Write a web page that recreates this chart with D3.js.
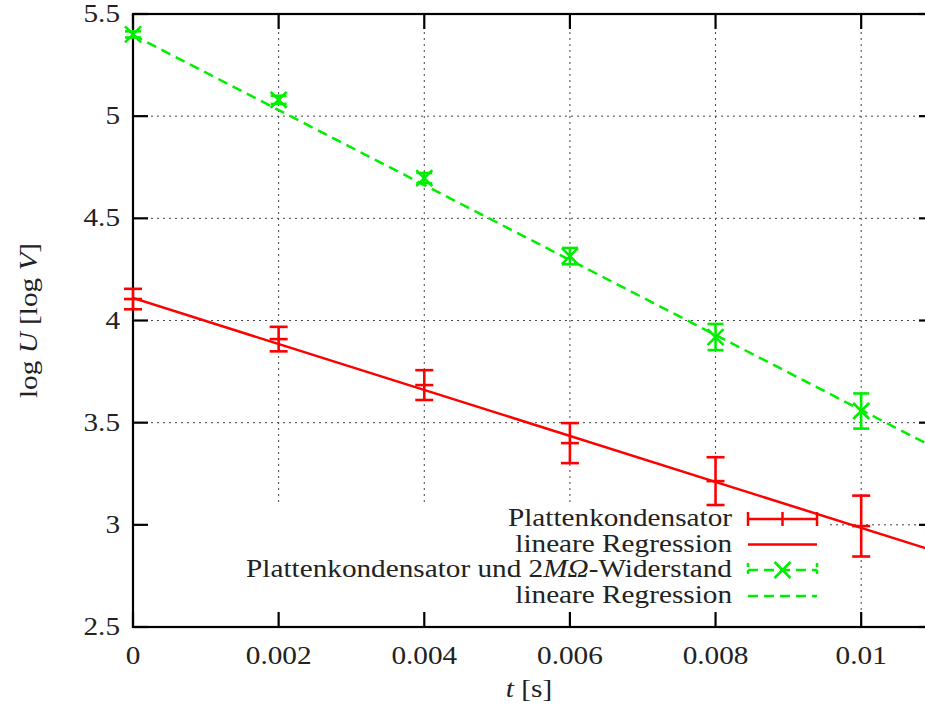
<!DOCTYPE html>
<html>
<head>
<meta charset="utf-8">
<script src="https://cdn.jsdelivr.net/npm/d3@7"></script>
<style>
  body { margin: 0; background: #fff; }
  svg text { font-family: "Liberation Serif", "DejaVu Serif", serif; fill: #222; }
</style>
</head>
<body>
<svg id="chart" width="925" height="713"></svg>
<script>
var times = [0, 0.002, 0.004, 0.006, 0.008, 0.01];
var plattenU = [4.105, 3.909, 3.684, 3.40, 3.214, 2.994];
var plattenErr = [0.05, 0.06, 0.073, 0.098, 0.117, 0.149];
var widerstandU = [5.40, 5.08, 4.697, 4.315, 3.919, 3.557];
var widerstandErr = [0.015, 0.02, 0.025, 0.04, 0.064, 0.086];

// linear fits: [intercept, slope]
var plattenFit = [4.11, -112.5];
var widerstandFit = [5.397, -183.5];

var xTicks = [0, 0.002, 0.004, 0.006, 0.008, 0.01];
var xTickLabels = ['0', '0.002', '0.004', '0.006', '0.008', '0.01'];
var yTicks = [2.5, 3, 3.5, 4, 4.5, 5, 5.5];
var yTickLabels = ['2.5', '3', '3.5', '4', '4.5', '5', '5.5'];

var legendLabels = ['Plattenkondensator', 'lineare Regression',
    'Plattenkondensator und 2MΩ-Widerstand', 'lineare Regression'];

var RED = '#ff0000';
var GREEN = '#00ee00';

var svg = d3.select('#chart');
var pLeft = 133, pRight = 934, pTop = 14, pBottom = 627;
var FONT = 25, STRETCH = 1.17; // liberation serif is narrower than computer modern

var x = d3.scaleLinear().domain([0, 0.011]).range([pLeft, pRight]);
var y = d3.scaleLinear().domain([2.5, 5.5]).range([pBottom, pTop]);

// text helper: stretched horizontally around its anchor point
function label(parent, px, py, anchor, rot) {
    var tr = 'translate(' + px + ',' + py + ')' + (rot ? ' rotate(' + rot + ')' : '') +
             ' scale(' + STRETCH + ',1)';
    return parent.append('text')
        .attr('transform', tr)
        .attr('text-anchor', anchor)
        .attr('font-size', FONT);
}

// legend box area (grid is hidden behind it)
var legendBox = { x0: 236, x1: 830, y0: 503, y1: 612 };

// grid
var grid = svg.append('g')
    .attr('stroke', '#444')
    .attr('stroke-width', 1)
    .attr('stroke-dasharray', '2,4');

xTicks.slice(1).forEach(function (t) {
    var px = x(t);
    var yEnd = (px > legendBox.x0 && px < legendBox.x1) ? legendBox.y0 : pBottom;
    grid.append('line')
        .attr('x1', px).attr('x2', px)
        .attr('y1', pTop).attr('y2', yEnd);
});
yTicks.slice(1, -1).forEach(function (v) {
    var py = y(v);
    var xStart = (py > legendBox.y0 && py < legendBox.y1) ? legendBox.x1 : pLeft;
    grid.append('line')
        .attr('x1', xStart).attr('x2', pRight)
        .attr('y1', py).attr('y2', py);
});

// axes with inward ticks on all four sides
var tickLen = 15;
var axisG = svg.append('g').attr('stroke', '#000').attr('stroke-width', 2.2);
xTicks.forEach(function (t) {
    axisG.append('line').attr('x1', x(t)).attr('x2', x(t))
        .attr('y1', pBottom).attr('y2', pBottom - tickLen);
    axisG.append('line').attr('x1', x(t)).attr('x2', x(t))
        .attr('y1', pTop).attr('y2', pTop + tickLen);
});
yTicks.forEach(function (v) {
    axisG.append('line').attr('x1', pLeft).attr('x2', pLeft + tickLen)
        .attr('y1', y(v)).attr('y2', y(v));
    axisG.append('line').attr('x1', pRight).attr('x2', pRight - tickLen)
        .attr('y1', y(v)).attr('y2', y(v));
});
axisG.append('rect')
    .attr('x', pLeft).attr('y', pTop)
    .attr('width', pRight - pLeft).attr('height', pBottom - pTop)
    .attr('fill', 'none');

// tick labels
var tl = svg.append('g');
xTicks.forEach(function (t, i) {
    label(tl, x(t), 664, 'middle').text(xTickLabels[i]);
});
yTicks.forEach(function (v, i) {
    label(tl, 120, y(v) + 8, 'end').text(yTickLabels[i]);
});

// axis titles
var xt = label(svg, 529, 697, 'middle');
xt.append('tspan').attr('font-style', 'italic').text('t');
xt.append('tspan').text(' [s]');

var yt = label(svg, 37, (pTop + pBottom) / 2, 'middle', -90);
yt.append('tspan').text('log ');
yt.append('tspan').attr('font-style', 'italic').text('U');
yt.append('tspan').text(' [log ');
yt.append('tspan').attr('font-style', 'italic').text('V');
yt.append('tspan').text(']');

// legend background
svg.append('rect')
    .attr('x', legendBox.x0).attr('y', legendBox.y0)
    .attr('width', legendBox.x1 - legendBox.x0)
    .attr('height', legendBox.y1 - legendBox.y0)
    .attr('fill', '#fff');

// fit lines are clipped to the plot area, points are not
svg.append('clipPath').attr('id', 'plotclip')
    .append('rect')
    .attr('x', pLeft).attr('y', pTop)
    .attr('width', pRight - pLeft).attr('height', pBottom - pTop);
var lines = svg.append('g').attr('clip-path', 'url(#plotclip)');
var points = svg.append('g');

function fitLine(fit, color, dash) {
    var xs = x.domain();
    lines.append('line')
        .attr('x1', x(xs[0])).attr('y1', y(fit[0] + fit[1] * xs[0]))
        .attr('x2', x(xs[1])).attr('y2', y(fit[0] + fit[1] * xs[1]))
        .attr('stroke', color)
        .attr('stroke-width', 2.5)
        .attr('stroke-dasharray', dash);
}

function errorBars(vals, errs, color, capW) {
    var g = points.append('g').attr('stroke', color).attr('stroke-width', 2.6);
    times.forEach(function (t, i) {
        var px = x(t);
        var lo = y(vals[i] - errs[i]), hi = y(vals[i] + errs[i]);
        g.append('line').attr('x1', px).attr('x2', px).attr('y1', lo).attr('y2', hi);
        g.append('line').attr('x1', px - capW).attr('x2', px + capW).attr('y1', lo).attr('y2', lo);
        g.append('line').attr('x1', px - capW).attr('x2', px + capW).attr('y1', hi).attr('y2', hi);
    });
    return g;
}

fitLine(plattenFit, RED, null);
fitLine(widerstandFit, GREEN, '10,6');

var redBars = errorBars(plattenU, plattenErr, RED, 9);
times.forEach(function (t, i) {
    redBars.append('line')
        .attr('x1', x(t) - 9).attr('x2', x(t) + 9)
        .attr('y1', y(plattenU[i])).attr('y2', y(plattenU[i]));
});

var greenBars = errorBars(widerstandU, widerstandErr, GREEN, 8);
times.forEach(function (t, i) {
    var px = x(t), py = y(widerstandU[i]), s = 8;
    greenBars.append('path')
        .attr('d', 'M' + (px - s) + ',' + (py - s) + 'L' + (px + s) + ',' + (py + s) +
                   'M' + (px - s) + ',' + (py + s) + 'L' + (px + s) + ',' + (py - s))
        .attr('fill', 'none');
});

// legend
var legX = 732, sx0 = 748, sx1 = 817, sxm = (sx0 + sx1) / 2;
var baselines = [526, 551.5, 577, 603];
var leg = svg.append('g');
legendLabels.forEach(function (lab, i) {
    var t = label(leg, legX, baselines[i], 'end');
    if (i === 2) {
        t.append('tspan').text('Plattenkondensator und 2');
        t.append('tspan').attr('font-style', 'italic').text('MΩ');
        t.append('tspan').text('-Widerstand');
    } else {
        t.text(lab);
    }
});

var ly = baselines.map(function (b) { return b - 7; });
var s1 = leg.append('g').attr('stroke', RED).attr('stroke-width', 2.5);
s1.append('line').attr('x1', sx0).attr('x2', sx1).attr('y1', ly[0]).attr('y2', ly[0]);
[sx0, sxm, sx1].forEach(function (px) {
    s1.append('line').attr('x1', px).attr('x2', px).attr('y1', ly[0] - 7).attr('y2', ly[0] + 7);
});
leg.append('line').attr('x1', sx0).attr('x2', sx1).attr('y1', ly[1]).attr('y2', ly[1])
    .attr('stroke', RED).attr('stroke-width', 2.5);

var s3 = leg.append('g').attr('stroke', GREEN).attr('stroke-width', 2.5);
s3.append('line').attr('x1', sx0).attr('x2', sx1).attr('y1', ly[2]).attr('y2', ly[2])
    .attr('stroke-dasharray', '10,6');
[sx0, sx1].forEach(function (px) {
    s3.append('line').attr('x1', px).attr('x2', px).attr('y1', ly[2] - 7).attr('y2', ly[2] + 7)
        .attr('stroke-dasharray', '4,3');
});
s3.append('path')
    .attr('d', 'M' + (sxm - 8) + ',' + (ly[2] - 8) + 'L' + (sxm + 8) + ',' + (ly[2] + 8) +
               'M' + (sxm - 8) + ',' + (ly[2] + 8) + 'L' + (sxm + 8) + ',' + (ly[2] - 8))
    .attr('fill', 'none');
leg.append('line').attr('x1', sx0).attr('x2', sx1).attr('y1', ly[3]).attr('y2', ly[3])
    .attr('stroke', GREEN).attr('stroke-width', 2.5).attr('stroke-dasharray', '10,6');
</script>
</body>
</html>
